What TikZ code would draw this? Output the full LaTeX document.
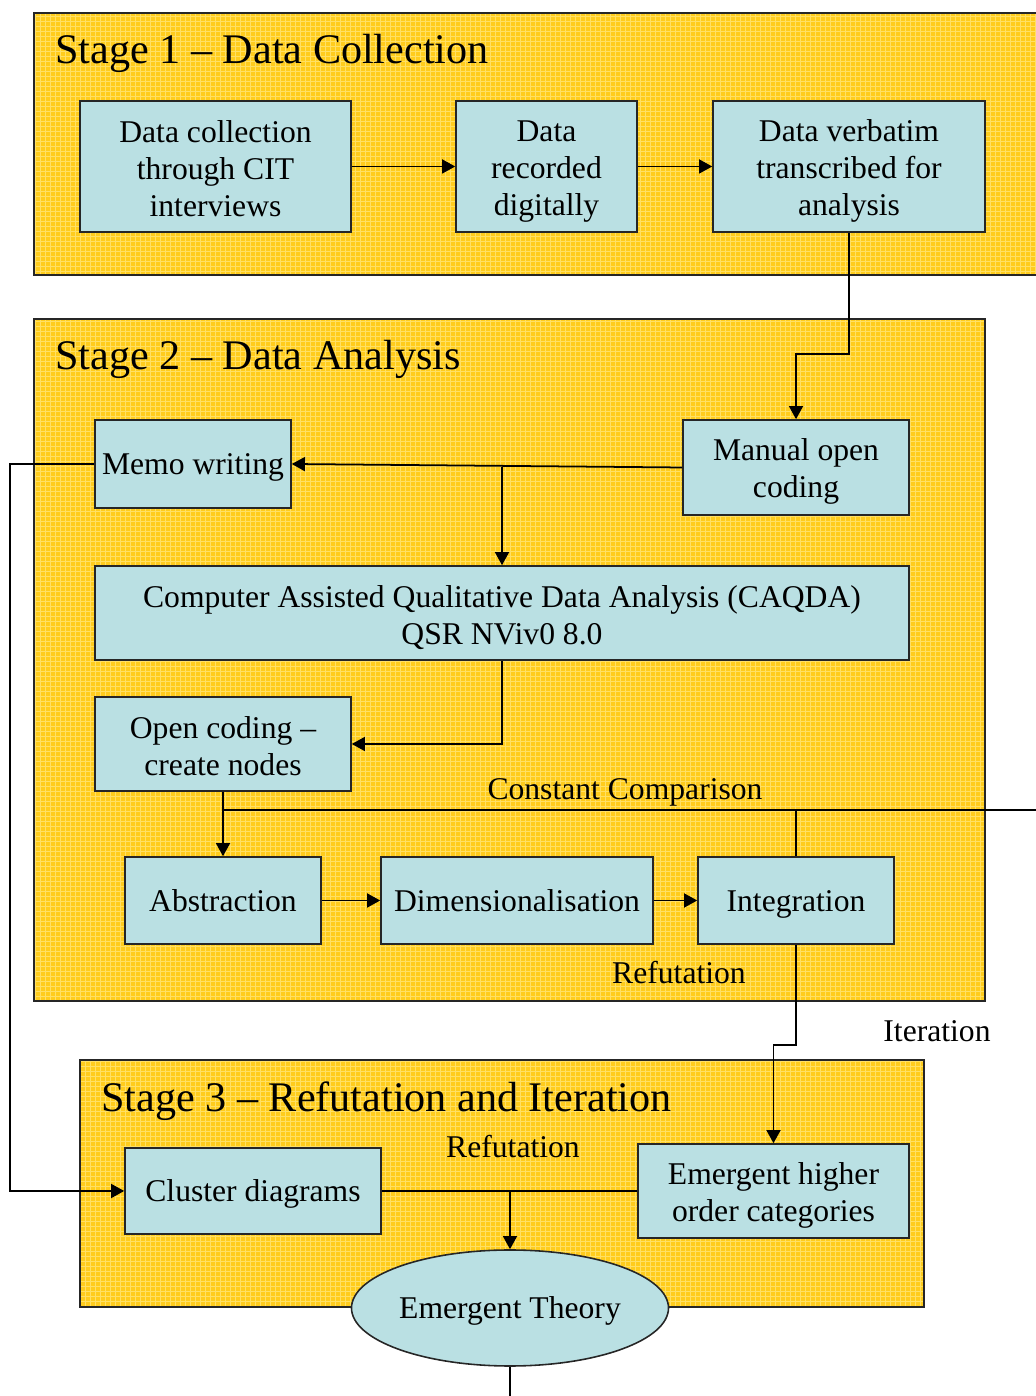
\documentclass[tikz,border=0pt]{standalone}
\usepackage{fontspec}
\setmainfont{Liberation Serif}
\usetikzlibrary{arrows.meta,shapes.geometric}

\definecolor{stageyellow}{RGB}{255,204,28}
\definecolor{gridyellow}{RGB}{255,224,100}
\definecolor{boxblue}{RGB}{186,224,227}

\newcommand{\boxstrut}{\rule[-3pt]{0pt}{19pt}}
\newcommand{\tallstrut}{\rule{0pt}{17.5pt}}

\tikzset{
  stagebox/.style={draw=black!85, line width=1.2pt, fill=stageyellow,
    path picture={\draw [gridyellow, line width=0.35pt, step=0.1]
      (path picture bounding box.south west) grid (path picture bounding box.north east);}},
  stepbox/.style={draw=black!85, line width=0.9pt, fill=boxblue, align=center,
    inner sep=0pt, font=\fontsize{18}{21}\selectfont,
    execute at begin node=\boxstrut, execute at end node=\boxstrut},
  stagetitle/.style={anchor=west, inner sep=0pt, font=\fontsize{24}{29}\selectfont},
  lbl/.style={inner sep=0pt, font=\fontsize{18}{21}\selectfont},
  conn/.style={line width=1pt},
  arr/.style={conn, -{Triangle[width=8pt,length=7.5pt]}}
}

\begin{document}
\begin{tikzpicture}
    \useasboundingbox (0,0) rectangle (20.7,27.92);

      \draw [stagebox] (0.68,27.66) rectangle (20.8,22.42);
      \node [stagetitle] (t1) at (1.1,26.86) {Stage 1 -- Data Collection};

      \node [stepbox, minimum width=5.42cm, minimum height=2.62cm] (collect) at (4.31,24.59) {\tallstrut Data collection\\through CIT\\interviews};
      \node [stepbox, minimum width=3.62cm, minimum height=2.62cm] (record) at (10.93,24.59) {\tallstrut Data\\recorded\\digitally};
      \node [stepbox, minimum width=5.44cm, minimum height=2.62cm] (verbatim) at (16.98,24.59) {\tallstrut Data verbatim\\transcribed for\\analysis};

      \draw [arr] (collect) -- (record);
      \draw [arr] (record) -- (verbatim);

      \draw [stagebox] (0.68,21.54) rectangle (19.7,7.9);
      \node [stagetitle] (t2) at (1.1,20.74) {Stage 2 -- Data Analysis};

      \node [stepbox, minimum width=3.92cm, minimum height=1.76cm] (memo) at (3.86,18.64) {Memo writing};
      \node [stepbox, minimum width=4.52cm, minimum height=1.9cm] (manual) at (15.92,18.57) {\tallstrut Manual open\\coding};
      \node [stepbox, minimum width=16.28cm, minimum height=1.88cm] (caqda) at (10.04,15.66) {\tallstrut Computer Assisted Qualitative Data Analysis (CAQDA)\\QSR NViv0 8.0};
      \node [stepbox, minimum width=5.12cm, minimum height=1.88cm] (open) at (4.46,13.04) {\tallstrut Open coding --\\create nodes};

      \node [lbl] (cc) at (12.5,12.07) {Constant Comparison};
      \coordinate (ccend) at (20.8,11.72);

      \node [stepbox, minimum width=3.92cm, minimum height=1.74cm] (abstr) at (4.46,9.91) {Abstraction};
      \node [stepbox, minimum width=5.44cm, minimum height=1.74cm] (dimen) at (10.34,9.91) {Dimensionalisation};
      \node [stepbox, minimum width=3.92cm, minimum height=1.74cm] (integ) at (15.92,9.91) {Integration};
      \node [lbl] (refut1) at (13.58,8.46) {Refutation};

      \draw [arr] (verbatim.south) -- ++(0,-2.42) -| (manual.north);
      \draw [arr] (manual.west) -- (memo.east);
      \draw [arr] (caqda.north |- manual.west) -- (caqda.north);
      \draw [arr] (caqda.south) |- (open.east);
      \draw [arr] (open.south) -- (abstr.north);
      \draw [conn] (open.south |- ccend) -- (ccend);
      \draw [conn] (integ.north |- ccend) -- (integ.north);
      \draw [arr] (abstr) -- (dimen);
      \draw [arr] (dimen) -- (integ);

      \node [lbl] (iter) at (18.74,7.3) {Iteration};

      \draw [stagebox] (1.6,6.72) rectangle (18.48,1.78);
      \node [stagetitle] (t3) at (2.02,5.9) {Stage 3 -- Refutation and Iteration};

      \node [stepbox, minimum width=5.12cm, minimum height=1.72cm] (cluster) at (5.06,4.1) {Cluster diagrams};
      \node [stepbox, minimum width=5.42cm, minimum height=1.88cm] (emerg) at (15.47,4.1) {\tallstrut Emergent higher\\order categories};
      \node [lbl] (refut2) at (10.26,4.98) {Refutation};
      \node [stepbox, ellipse, minimum width=6.34cm, minimum height=2.32cm] (theory) at (10.2,1.76) {Emergent Theory};

      \coordinate (loop) at (0.2,0);
      \coordinate (exit) at (10.2,0);

      \draw [arr] (integ.south) -- ++(0,-2) -| (emerg.north);
      \draw [arr] (memo.west) -- (memo.west -| loop) |- (cluster.west);
      \draw [conn] (cluster.east) -- (emerg.west);
      \draw [arr] (cluster.east -| theory.north) -- (theory.north);
      \draw [conn] (theory.south) -- (theory.south |- exit);
    \end{tikzpicture}
\end{document}
